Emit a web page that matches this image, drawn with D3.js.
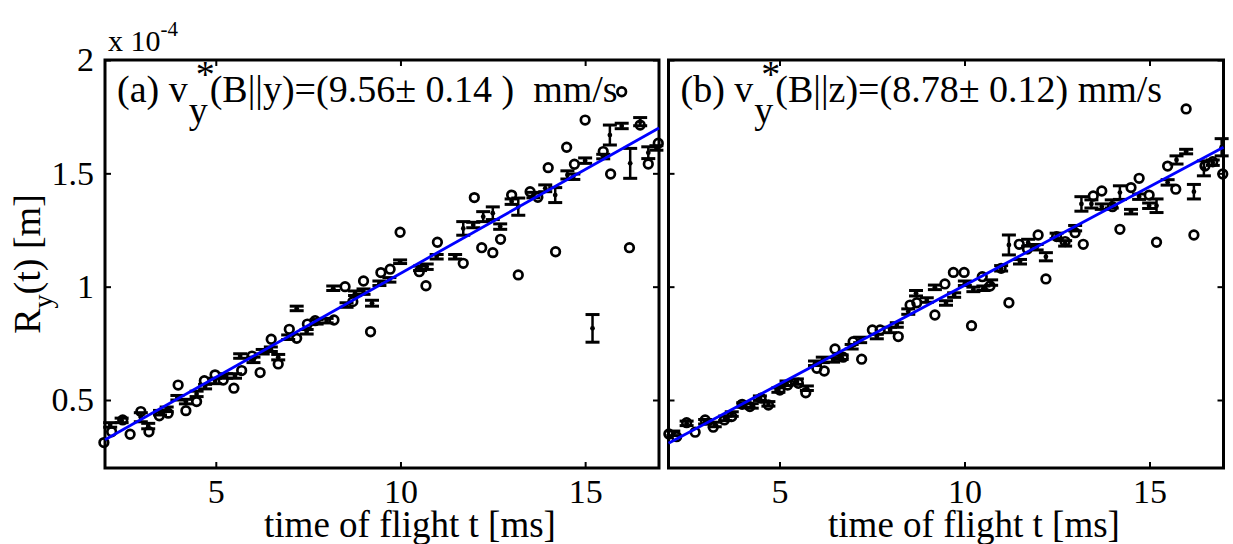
<!DOCTYPE html>
<html>
<head>
<meta charset="utf-8">
<script src="https://cdn.jsdelivr.net/npm/d3@7"></script>
<style>
body { margin: 0; background: #fff; }
svg { display: block; font-family: "Liberation Serif", "Times New Roman", serif; }
text { white-space: pre; }
</style>
</head>
<body>
<div id="container"></div>
<script>
var width = 1233, height = 544;

var xTicks = [5, 10, 15];
var yTicks = [0.5, 1, 1.5, 2];

// panel (a): open circles
var circTA = [1.97, 2.18, 2.48, 2.68, 2.97, 3.19, 3.47, 3.71, 3.98, 4.19, 4.48, 4.69, 4.98, 5.20, 5.49, 5.70, 5.98, 6.20, 6.50, 6.69,
	6.99, 7.19, 7.48, 7.69, 8.20, 8.50, 8.71, 9.00, 9.19, 9.47, 9.72, 9.99, 10.51, 10.69, 11.00, 11.70, 12.00, 12.20, 12.50, 12.71,
	13.01, 13.19, 13.51, 13.72, 14.00, 14.20, 14.50, 14.71, 15.00, 15.49, 15.69, 15.99, 16.20, 16.49, 16.71, 16.98];
var circRA = [0.312, 0.360, 0.412, 0.349, 0.449, 0.360, 0.430, 0.442, 0.566, 0.453, 0.493, 0.585, 0.611, 0.588, 0.552, 0.630, 0.694, 0.621, 0.768, 0.659,
	0.812, 0.772, 0.835, 0.850, 0.853, 1.000, 0.934, 1.025, 0.801, 1.062, 1.077, 1.240, 1.066, 1.004, 1.196, 1.103, 1.393, 1.172, 1.150, 1.209,
	1.404, 1.052, 1.419, 1.394, 1.525, 1.154, 1.615, 1.540, 1.735, 1.596, 1.497, 1.860, 1.172, 1.713, 1.541, 1.633];
// panel (a): error bars
var barTA = [2.14, 2.45, 2.97, 3.17, 3.49, 3.67, 3.96, 4.19, 4.48, 4.71, 4.98, 5.28, 5.52, 5.66, 6.02, 6.27, 6.49, 6.69, 6.96, 7.19,
	7.46, 7.73, 8.00, 8.18, 8.54, 8.77, 9.00, 9.23, 9.43, 9.70, 9.99, 10.53, 10.71, 10.98, 11.48, 11.70, 11.97, 12.24, 12.50, 12.70,
	13.01, 13.19, 13.60, 13.92, 14.19, 14.52, 14.68, 15.00, 15.20, 15.49, 15.67, 15.99, 16.22, 16.49, 16.71, 16.93];
var barRA = [0.390, 0.410, 0.424, 0.385, 0.444, 0.459, 0.510, 0.493, 0.527, 0.559, 0.584, 0.606, 0.606, 0.694, 0.677, 0.713, 0.724, 0.689, 0.777, 0.904,
	0.801, 0.845, 0.850, 0.993, 0.919, 0.971, 0.978, 0.927, 1.015, 1.030, 1.110, 1.081, 1.088, 1.132, 1.132, 1.257, 1.272, 1.309, 1.324, 1.265,
	1.375, 1.353, 1.404, 1.434, 1.404, 1.493, 1.485, 1.556, 0.816, 1.574, 1.669, 1.709, 1.544, 1.728, 1.591, 1.612];
var barEA = [0.010, 0.010, 0.020, 0.012, 0.010, 0.010, 0.010, 0.010, 0.012, 0.010, 0.012, 0.010, 0.010, 0.010, 0.012, 0.010, 0.010, 0.012, 0.010, 0.010,
	0.010, 0.010, 0.010, 0.010, 0.010, 0.010, 0.012, 0.013, 0.010, 0.010, 0.008, 0.010, 0.012, 0.010, 0.010, 0.030, 0.012, 0.022, 0.028, 0.012,
	0.012, 0.038, 0.012, 0.015, 0.033, 0.018, 0.012, 0.012, 0.061, 0.010, 0.044, 0.012, 0.066, 0.018, 0.026, 0.010];
// panel (a): fitted line
var fitTA = [2, 17], fitRA = [0.325, 1.70];

// panel (b): open circles
var circTB = [2.01, 2.22, 2.49, 2.72, 2.99, 3.21, 3.51, 3.71, 3.99, 4.20, 4.50, 4.70, 5.01, 5.22, 5.51, 5.71, 6.01, 6.21, 6.50, 6.72,
	6.99, 7.22, 7.51, 7.72, 8.21, 8.53, 8.71, 9.20, 9.47, 9.70, 9.99, 10.19, 10.48, 10.69, 10.99, 11.20, 11.48, 11.70, 11.99, 12.20,
	12.49, 12.72, 12.99, 13.21, 13.48, 13.71, 14.00, 14.20, 14.50, 14.72, 14.99, 15.19, 15.49, 15.71, 15.99, 16.20, 16.50, 16.71, 16.98];
var circRB = [0.350, 0.338, 0.400, 0.358, 0.412, 0.380, 0.412, 0.427, 0.481, 0.471, 0.508, 0.478, 0.544, 0.566, 0.574, 0.532, 0.640, 0.628, 0.725, 0.689,
	0.757, 0.680, 0.809, 0.809, 0.780, 0.919, 0.929, 0.875, 1.012, 1.063, 1.063, 0.828, 1.044, 1.003, 1.081, 0.929, 1.187, 1.166, 1.228, 1.034,
	1.221, 1.199, 1.238, 1.187, 1.400, 1.422, 1.353, 1.253, 1.437, 1.478, 1.404, 1.196, 1.532, 1.430, 1.784, 1.228, 1.532, 1.551, 1.497];
// panel (b): error bars
var barTB = [2.13, 2.49, 2.99, 3.25, 3.53, 3.71, 4.02, 4.25, 4.47, 4.70, 4.97, 5.19, 5.47, 5.74, 5.96, 6.17, 6.45, 6.68, 6.95, 7.18,
	7.63, 7.99, 8.17, 8.48, 8.69, 8.98, 9.20, 9.50, 9.72, 10.01, 10.24, 10.51, 10.72, 10.99, 11.20, 11.50, 11.72, 11.95, 12.20, 12.49,
	12.72, 12.99, 13.16, 13.43, 13.71, 13.98, 14.20, 14.50, 14.72, 14.99, 15.19, 15.49, 15.73, 15.99, 16.20, 16.47, 16.71, 16.95];
var barRB = [0.353, 0.397, 0.404, 0.392, 0.419, 0.438, 0.478, 0.474, 0.508, 0.483, 0.544, 0.574, 0.581, 0.552, 0.662, 0.677, 0.677, 0.689, 0.735, 0.765,
	0.780, 0.809, 0.831, 0.890, 0.971, 0.941, 0.997, 0.928, 0.963, 1.015, 0.988, 0.993, 1.018, 1.081, 1.184, 1.110, 1.194, 1.174, 1.132, 1.224,
	1.191, 1.258, 1.365, 1.365, 1.353, 1.365, 1.415, 1.331, 1.397, 1.357, 1.357, 1.460, 1.559, 1.596, 1.419, 1.522, 1.547, 1.615];
var barEB = [0.010, 0.010, 0.010, 0.010, 0.010, 0.010, 0.010, 0.010, 0.010, 0.010, 0.010, 0.010, 0.012, 0.010, 0.010, 0.012, 0.010, 0.010, 0.010, 0.012,
	0.010, 0.012, 0.010, 0.012, 0.012, 0.010, 0.010, 0.010, 0.010, 0.010, 0.010, 0.010, 0.012, 0.012, 0.044, 0.010, 0.015, 0.012, 0.018, 0.012,
	0.012, 0.012, 0.032, 0.018, 0.012, 0.018, 0.030, 0.010, 0.012, 0.012, 0.030, 0.012, 0.018, 0.010, 0.032, 0.033, 0.012, 0.038];
// panel (b): fitted line
var fitTB = [2, 17], fitRB = [0.309, 1.615];

var panels = [
	{left: 105, right: 659, circT: circTA, circR: circRA, barT: barTA, barR: barRA, barE: barEA, fitT: fitTA, fitR: fitRA,
		tag: "(a) v", rest: "(B||y)=(9.56\u00b1 0.14 )  mm/s", yLabels: true},
	{left: 668.5, right: 1223.5, circT: circTB, circR: circRB, barT: barTB, barR: barRB, barE: barEB, fitT: fitTB, fitR: fitRB,
		tag: "(b) v", rest: "(B||z)=(8.78\u00b1 0.12) mm/s", yLabels: false}
];

var plotTop = 60, plotBottom = 468;

var translate = function (x, y) {
	return "translate(" + x + "," + y + ")";
};

function zip(a, b, c) {
	return a.map(function (d, i) { return {t: d, r: b[i], e: c ? c[i] : 0}; });
}

function drawPanel(svg, p) {
	var xScale = d3.scaleLinear().domain([2, 17]).range([p.left, p.right]);
	var yScale = d3.scaleLinear().domain([0.2, 2]).range([plotBottom, plotTop]);
	var g = svg.append('g');

	// axes, ticks inward on all four sides
	var ax = [
		{a: d3.axisBottom(xScale).tickValues(xTicks).tickFormat(d3.format('d')), tr: translate(0, plotBottom)},
		{a: d3.axisTop(xScale).tickValues(xTicks).tickFormat(''), tr: translate(0, plotTop)},
		{a: d3.axisLeft(yScale).tickValues(yTicks).tickFormat(p.yLabels ? d3.format('') : ''), tr: translate(p.left, 0)},
		{a: d3.axisRight(yScale).tickValues(yTicks).tickFormat(''), tr: translate(p.right, 0)}
	];
	ax.forEach(function (o) {
		var sel = g.append('g')
			.attr('transform', o.tr)
			.call(o.a.tickSizeInner(-6).tickSizeOuter(0).tickPadding(11));
		sel.select('.domain').remove();
		sel.selectAll('.tick line').attr('stroke', '#000').attr('stroke-width', 2);
		sel.selectAll('.tick text')
			.attr('fill', '#000')
			.style('font-family', '"Liberation Serif", serif')
			.style('font-size', '34px');
	});

	g.append('rect')
		.attr('x', p.left).attr('y', plotTop)
		.attr('width', p.right - p.left).attr('height', plotBottom - plotTop)
		.attr('fill', 'none').attr('stroke', '#000').attr('stroke-width', 3);

	// error bars
	var bars = g.selectAll('g.eb').data(zip(p.barT, p.barR, p.barE)).enter()
		.append('g').attr('class', 'eb');
	bars.append('line')
		.attr('x1', function (d) { return xScale(d.t); })
		.attr('x2', function (d) { return xScale(d.t); })
		.attr('y1', function (d) { return yScale(d.r - d.e); })
		.attr('y2', function (d) { return yScale(d.r + d.e); })
		.attr('stroke', '#000').attr('stroke-width', 2.5);
	[-1, 1].forEach(function (s) {
		bars.append('line')
			.attr('x1', function (d) { return xScale(d.t) - 7; })
			.attr('x2', function (d) { return xScale(d.t) + 7; })
			.attr('y1', function (d) { return yScale(d.r + s * d.e); })
			.attr('y2', function (d) { return yScale(d.r + s * d.e); })
			.attr('stroke', '#000').attr('stroke-width', 3);
	});
	bars.append('circle')
		.attr('cx', function (d) { return xScale(d.t); })
		.attr('cy', function (d) { return yScale(d.r); })
		.attr('r', 2.4).attr('fill', '#000');

	// open circles
	g.selectAll('circle.pt').data(zip(p.circT, p.circR)).enter()
		.append('circle').attr('class', 'pt')
		.attr('cx', function (d) { return xScale(d.t); })
		.attr('cy', function (d) { return yScale(d.r); })
		.attr('r', 4.3)
		.attr('fill', 'none').attr('stroke', '#000').attr('stroke-width', 2.7);

	// fitted line
	var line = d3.line()
		.x(function (d) { return xScale(d.t); })
		.y(function (d) { return yScale(d.r); });
	g.append('path')
		.attr('d', line(zip(p.fitT, p.fitR)))
		.attr('stroke', '#0000ff').attr('stroke-width', 2.8).attr('fill', 'none');

	// panel title with stacked sub/superscript
	var fs = '38px';
	var tx = p.left + 12, ty = 102;
	var t1 = g.append('text').attr('x', tx).attr('y', ty)
		.style('font-size', fs).text(p.tag);
	var w1 = t1.node().getComputedTextLength();
	var sub = g.append('text').attr('x', tx + w1 + 1).attr('y', ty + 21)
		.style('font-size', fs).text('y');
	g.append('text').attr('x', tx + w1 + 8).attr('y', ty - 15)
		.style('font-size', fs).text('*');
	var w2 = sub.node().getComputedTextLength();
	g.append('text').attr('x', tx + w1 + w2 + 3).attr('y', ty)
		.style('font-size', fs).text(p.rest);

	// x label
	g.append('text')
		.attr('x', (p.left + p.right) / 2 + 28).attr('y', 537)
		.attr('text-anchor', 'middle')
		.style('font-size', '37px')
		.text('time of flight t [ms]');
}

function visualize() {
	var svg = d3.select('#container')
		.append('svg')
		.attr('width', width)
		.attr('height', height);

	panels.forEach(function (p) { drawPanel(svg, p); });

	// y label
	var yl = svg.append('text')
		.attr('transform', translate(40, 264) + ' rotate(-90)')
		.attr('text-anchor', 'middle')
		.style('font-size', '38px');
	yl.append('tspan').text('R');
	yl.append('tspan').attr('dy', 12).style('font-size', '28px').text('y');
	yl.append('tspan').attr('dy', -12).text('(t) [m]');

	// exponent
	var ex = svg.append('text').attr('x', 108).attr('y', 51).style('font-size', '30px');
	ex.append('tspan').text('x 10');
	ex.append('tspan').attr('dy', -15).style('font-size', '21px').text('-4');
}

window.onload = visualize;
</script>
</body>
</html>
